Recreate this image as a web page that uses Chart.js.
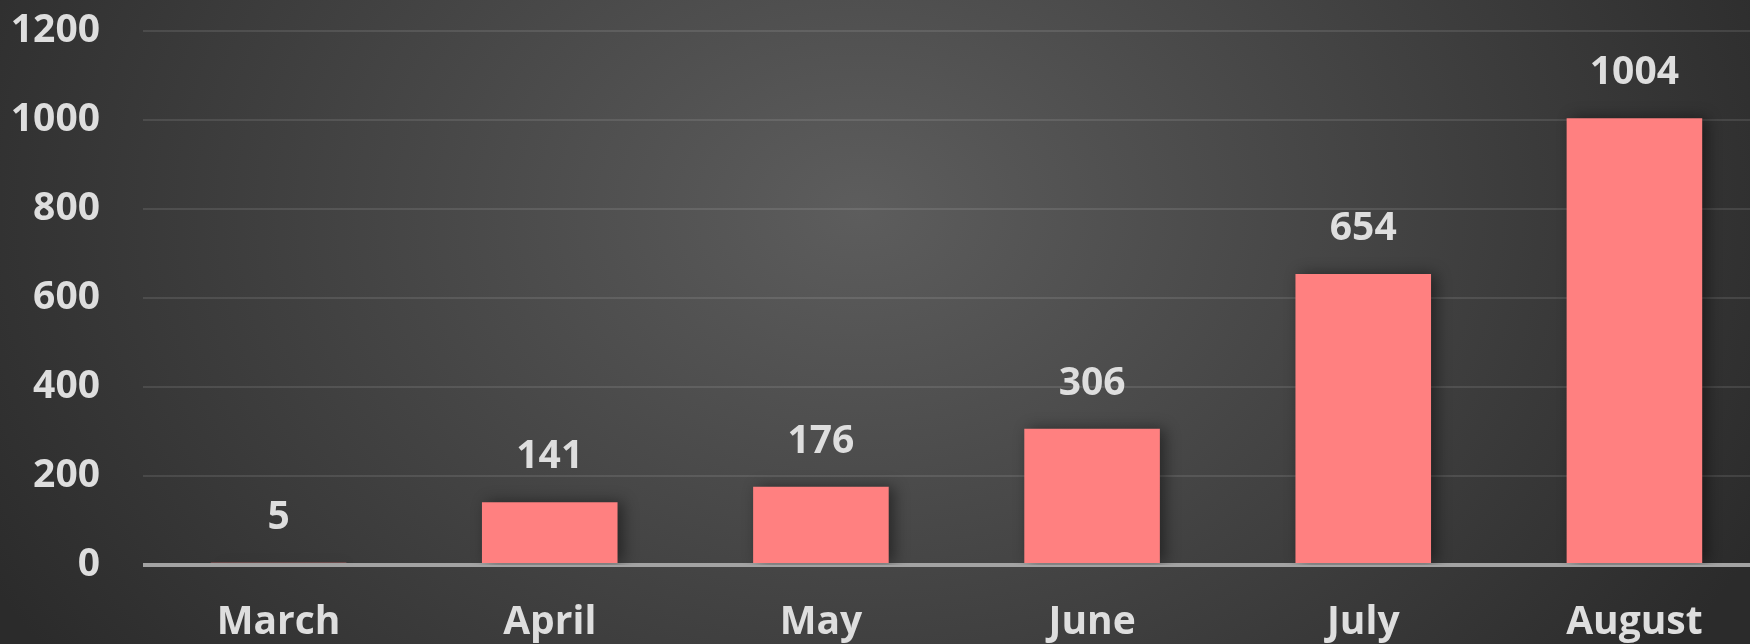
<!DOCTYPE html>
<html>
<head>
<meta charset="utf-8">
<script src="https://cdn.jsdelivr.net/npm/chart.js@4/dist/chart.umd.min.js"></script>
<style>
  html, body { margin: 0; padding: 0; }
  body {
    width: 1750px;
    height: 644px;
    overflow: hidden;
    background: radial-gradient(ellipse 1000px 760px at 860px 210px, #5d5d5d 0%, #2b2b2b 100%);
  }
  #wrap { width: 1770px; height: 644px; }
  canvas { display: block; }
</style>
</head>
<body>
<div id="wrap"><canvas id="monthChart" width="1770" height="644"></canvas></div>
<script>
// data
const months = ['March', 'April', 'May', 'June', 'July', 'August'];
const counts = [5, 141, 176, 306, 654, 1004];
const yTicks = [0, 200, 400, 600, 800, 1000, 1200];

const textColor = '#dedede';
const barColor = '#ff8080';
const labelFont = { family: '"Open Sans", sans-serif', size: 39, weight: 'bold' };

// soft shadow on the right of each bar
const barShadow = {
  id: 'barShadow',
  beforeDatasetDraw(chart) {
    const ctx = chart.ctx;
    ctx.save();
    ctx.shadowColor = 'rgba(0,0,0,0.45)';
    ctx.shadowBlur = 14;
    ctx.shadowOffsetX = 5;
    ctx.shadowOffsetY = 0;
  },
  afterDatasetDraw(chart) {
    chart.ctx.restore();
  }
};

// value above each bar
const valueLabels = {
  id: 'valueLabels',
  afterDatasetsDraw(chart) {
    const ctx = chart.ctx;
    const meta = chart.getDatasetMeta(0);
    ctx.save();
    ctx.font = 'bold 39px "Open Sans", sans-serif';
    ctx.fillStyle = textColor;
    ctx.textAlign = 'center';
    ctx.textBaseline = 'alphabetic';
    meta.data.forEach((bar, i) => {
      ctx.fillText(counts[i], bar.x, bar.y - 34);
    });
    ctx.restore();
  }
};

new Chart(document.getElementById('monthChart'), {
  type: 'bar',
  data: {
    labels: months,
    datasets: [{
      data: counts,
      backgroundColor: barColor,
      barPercentage: 0.5,
      categoryPercentage: 1.0
    }]
  },
  options: {
    responsive: false,
    animation: false,
    layout: { padding: { top: 31, left: 0, right: 0, bottom: 0 } },
    plugins: {
      legend: { display: false },
      tooltip: { enabled: false }
    },
    scales: {
      x: {
        afterFit(scale) { scale.height = 79; },
        grid: { display: false, drawTicks: false },
        border: { display: false },
        ticks: { color: textColor, font: labelFont, padding: 34 }
      },
      y: {
        min: 0,
        max: 1200,
        afterFit(scale) {
          scale.width = 143;
          scale.paddingTop = 0;
          scale.paddingBottom = 0;
        },
        afterBuildTicks(scale) { scale.ticks = yTicks.map(v => ({ value: v })); },
        border: { display: false },
        grid: {
          drawTicks: false,
          color: c => c.tick && c.tick.value === 0 ? '#a3a3a3' : 'rgba(255,255,255,0.1)',
          lineWidth: c => c.tick && c.tick.value === 0 ? 4 : 2
        },
        ticks: {
          color: textColor,
          font: labelFont,
          padding: 43,
          callback: v => String(v)
        }
      }
    }
  },
  plugins: [barShadow, valueLabels]
});
</script>
</body>
</html>
